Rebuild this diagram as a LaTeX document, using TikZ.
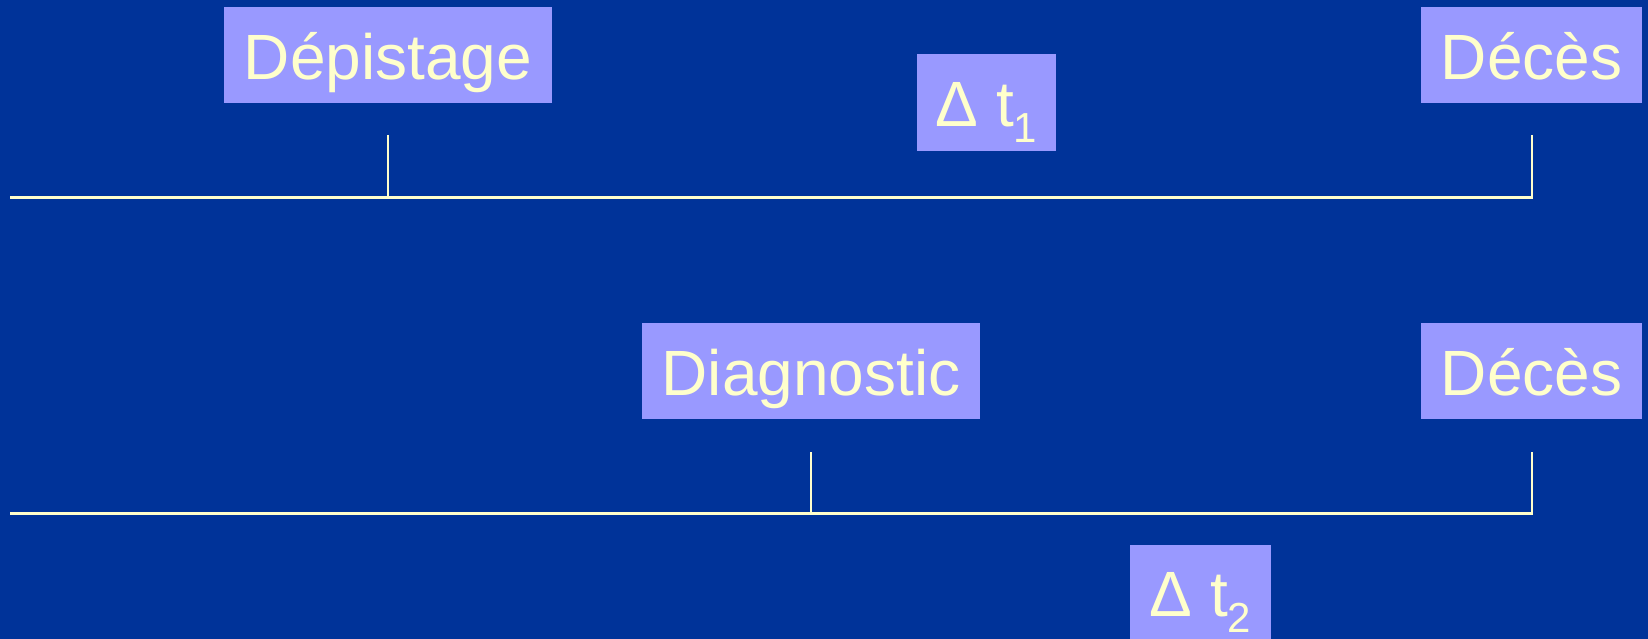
\documentclass[tikz,border=0pt]{standalone}
\usepackage{fontspec}
\setmainfont{Liberation Sans}
\definecolor{bgblue}{RGB}{0,51,153}
\definecolor{boxlilac}{RGB}{153,153,255}
\definecolor{paleyellow}{RGB}{255,255,204}
\newcommand{\subidx}[1]{{\fontsize{42}{42}\selectfont\raisebox{-16pt}{#1}}}
\tikzset{
  label box/.style={rectangle, fill=boxlilac, inner sep=0pt,
    minimum height=96pt, text=paleyellow, text height=49pt, text depth=0pt,
    font=\fontsize{64}{70}\selectfont},
  timeline/.style={draw=paleyellow, line width=3.5pt},
  tickmark/.style={draw=paleyellow, line width=2.2pt}
}
\begin{document}
\begin{tikzpicture}[x=1pt, y=-1pt]
  \useasboundingbox (0,0) rectangle (1648,639);
  \fill[bgblue] (0,0) rectangle (1648,639);

  % first timeline: screening
  \node[label box, minimum width=328pt] (dep) at (388,55) {Dépistage};
  \node[label box, minimum width=221pt] (dec1) at (1531.5,55) {Décès};
  \node[label box, minimum width=139pt, minimum height=97pt] (dt1) at (986.5,102.5) {Δ t\subidx{1}};

  \coordinate (a0) at (10,197.5);
  \coordinate (a1) at (1533,197.5);
  \coordinate (depTop) at (388,135);
  \coordinate (depBase) at (388,197.5);
  \coordinate (decTop1) at (1532,135);
  \coordinate (decBase1) at (1532,197.5);
  \draw[timeline] (a0) -- (a1);
  \draw[tickmark] (depTop) -- (depBase);
  \draw[tickmark] (decTop1) -- (decBase1);

  % second timeline: diagnosis
  \node[label box, minimum width=338pt] (diag) at (811,371) {Diagnostic};
  \node[label box, minimum width=221pt] (dec2) at (1531.5,371) {Décès};
  \node[label box, minimum width=141pt, minimum height=94pt] (dt2) at (1200.5,592) {Δ t\subidx{2}};

  \coordinate (b0) at (10,513.5);
  \coordinate (b1) at (1533,513.5);
  \coordinate (diagTop) at (811,452);
  \coordinate (diagBase) at (811,513.5);
  \coordinate (decTop2) at (1532,452);
  \coordinate (decBase2) at (1532,513.5);
  \draw[timeline] (b0) -- (b1);
  \draw[tickmark] (diagTop) -- (diagBase);
  \draw[tickmark] (decTop2) -- (decBase2);
\end{tikzpicture}
\end{document}
